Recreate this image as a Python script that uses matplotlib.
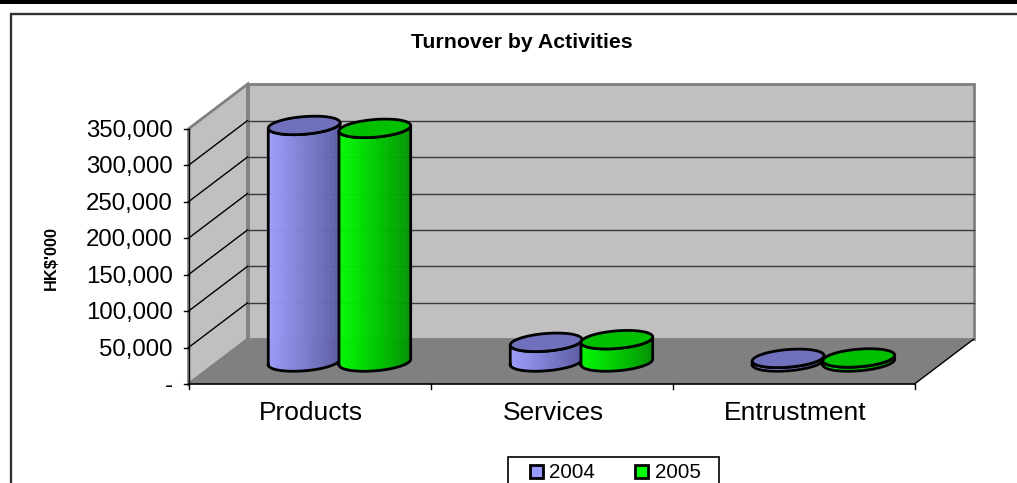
import numpy as np
import matplotlib
matplotlib.use("Agg")
import matplotlib.pyplot as plt
from matplotlib.patches import Polygon, Rectangle

categories = ["Products", "Services", "Entrustment"]
series_names = ["2004", "2005"]
values_2004 = [324500, 27000, 5000]
values_2005 = [320500, 30600, 5500]
y_ticks = [0, 50000, 100000, 150000, 200000, 250000, 300000, 350000]
y_tick_labels = ["-", "50,000", "100,000", "150,000", "200,000", "250,000", "300,000", "350,000"]

W, H = 1017, 483
plt.rcParams["font.family"] = ["Liberation Sans", "DejaVu Sans"]
fig = plt.figure(figsize=(W / 100, H / 100), dpi=100, facecolor="white")
ax = fig.add_axes([0, 0, 1, 1])
ax.axis("off")

# pixel geometry of the plot
X0, XU = 188.5, 242.0          # px of category 0, px per category
Y0, YU = 384.0, 36.45 / 50000  # px of value 0, px per value unit
ax.set_xlim((0 - X0) / XU, (W - X0) / XU)
ax.set_ylim((Y0 - H) / YU, Y0 / YU)
sx = 1 / XU   # px to data, horizontal
sy = 1 / YU   # px to data, vertical (up)
DX, DY = 59 * sx, 44.7 * sy   # depth
YMAX = y_ticks[-1]
NC = len(categories)


def px(x):
    return (x - X0) * sx


def py(y):
    return (Y0 - y) * sy


# top band and outer frame (right and bottom edges run off the page)
ax.add_patch(Rectangle((px(0), py(4)), W * sx, 4 * sy, fc="black", ec="none", zorder=1))
ax.add_patch(Rectangle((px(10.8), py(600)), 1200 * sx, (600 - 14) * sy,
                       fc="white", ec="#333333", lw=1.7, zorder=1))

# walls and floor
wall = "#c0c0c0"
edge = "#808080"
ax.add_patch(Polygon([(DX, DY), (NC + DX, DY), (NC + DX, YMAX + DY), (DX, YMAX + DY)],
                     fc=wall, ec=edge, lw=2, zorder=2))
ax.add_patch(Polygon([(0, 0), (DX, DY), (DX, YMAX + DY), (0, YMAX)],
                     fc=wall, ec=edge, lw=2, zorder=2))
ax.add_patch(Polygon([(0, 0), (NC, 0), (NC + DX, DY), (DX, DY)], fc="#808080", ec="none", zorder=2))

# grid lines
for v in y_ticks[1:-1]:
    ax.plot([0, DX], [v, v + DY], color="black", lw=1, zorder=3)
    ax.plot([DX, NC + DX], [v + DY, v + DY], color="#3a3a3a", lw=1, zorder=3)

# axis lines and ticks
ax.plot([0, 0], [0, YMAX], color="black", lw=1, zorder=4)
ax.plot([0, NC], [0, 0], color="black", lw=1.2, zorder=4)
ax.plot([NC, NC + DX], [0, DY], color="black", lw=1, zorder=4)
for v, lab in zip(y_ticks, y_tick_labels):
    ax.plot([-5 * sx, 0], [v, v], color="black", lw=1, zorder=4)
    ax.text(-15.5 * sx, v - 2 * sy, lab, ha="right", va="center", fontsize=17.3, color="black")
for i in range(NC + 1):
    ax.plot([i, i], [0, -5 * sy], color="black", lw=1, zorder=4)
for i, c in enumerate(categories):
    ax.text(i + 0.5 + 1.5 * sx, -29 * sy, c, ha="center", va="center", fontsize=19, color="black")

# cylinders
A, B = 36.0, 8.8     # semi axes in px
TILT = np.radians(4.7)
OFFSETS = [0.358, 0.65]
ZEROY = 22.0         # baseline px above front edge
XSHIFT = 29.0


def ellipse(cx, cy, t):
    ex = A * np.cos(t) * np.cos(TILT) - B * np.sin(t) * np.sin(TILT)
    ey = A * np.cos(t) * np.sin(TILT) + B * np.sin(t) * np.cos(TILT)
    return cx + ex * sx, cy + ey * sy


def mix(c1, c2, f):
    return tuple(np.array(c1) * (1 - f) + np.array(c2) * f)


def cylinder(cx, val, light, dark, cap, z):
    base = ZEROY * sy
    top = base + val
    ts = np.linspace(np.pi, 2 * np.pi, 46)
    for i in range(len(ts) - 1):
        xa, ya = ellipse(cx, base, ts[i])
        xb, yb = ellipse(cx, base, ts[i + 1])
        xc, yc = ellipse(cx, top, ts[i + 1])
        xd, yd = ellipse(cx, top, ts[i])
        f = (xa - (cx - A * sx)) / (2 * A * sx)
        col = mix(light, dark, np.clip(f, 0, 1))
        ax.add_patch(Polygon([(xa, ya), (xb, yb), (xc, yc), (xd, yd)], fc=col, ec=col, lw=0.3, zorder=z))
    bx, by = ellipse(cx, base, ts)
    tx, ty = ellipse(cx, top, ts[::-1])
    ax.plot(list(bx) + list(tx) + [bx[0]], list(by) + list(ty) + [by[0]], color="black", lw=2,
            zorder=z + 0.1, solid_joinstyle="round")
    tt = np.linspace(0, 2 * np.pi, 120)
    ex, ey = ellipse(cx, top, tt)
    ax.add_patch(Polygon(np.column_stack([ex, ey]), fc=cap, ec="black", lw=2, zorder=z + 0.2))


BLUE_L, BLUE_D = (0.62, 0.62, 1.0), (0.36, 0.36, 0.64)
GREEN_L, GREEN_D = (0.0, 1.0, 0.0), (0.0, 0.58, 0.0)
for i in range(NC):
    cylinder(i + OFFSETS[0] + XSHIFT * sx, values_2004[i], BLUE_L, BLUE_D, "#7070bc", 5 + i)
    cylinder(i + OFFSETS[1] + XSHIFT * sx, values_2005[i], GREEN_L, GREEN_D, "#00c000", 5.5 + i)

# title and axis label
ax.text(px(521.5), py(43), "Turnover by Activities", ha="center", va="center",
        fontsize=15.3, fontweight="bold")
ax.text(px(51), py(257.5), "HK$'000", ha="center", va="center", rotation=90,
        fontsize=11.8, fontweight="bold")

# legend (box runs off the bottom of the page)
ax.add_patch(Rectangle((px(508), py(520)), 211 * sx, 63 * sy, fc="white", ec="black", lw=1.2, zorder=9))
for name, lx, col in zip(series_names, [529.5, 635], ["#9999ff", "#00ff00"]):
    ax.add_patch(Rectangle((px(lx), py(477.5)), 13 * sx, 13 * sy, fc=col, ec="black", lw=2, zorder=10))
    ax.text(px(lx + 20), py(472), name, ha="left", va="center", fontsize=14.8, zorder=10)

fig.savefig("out.png", dpi=100, facecolor="white")
